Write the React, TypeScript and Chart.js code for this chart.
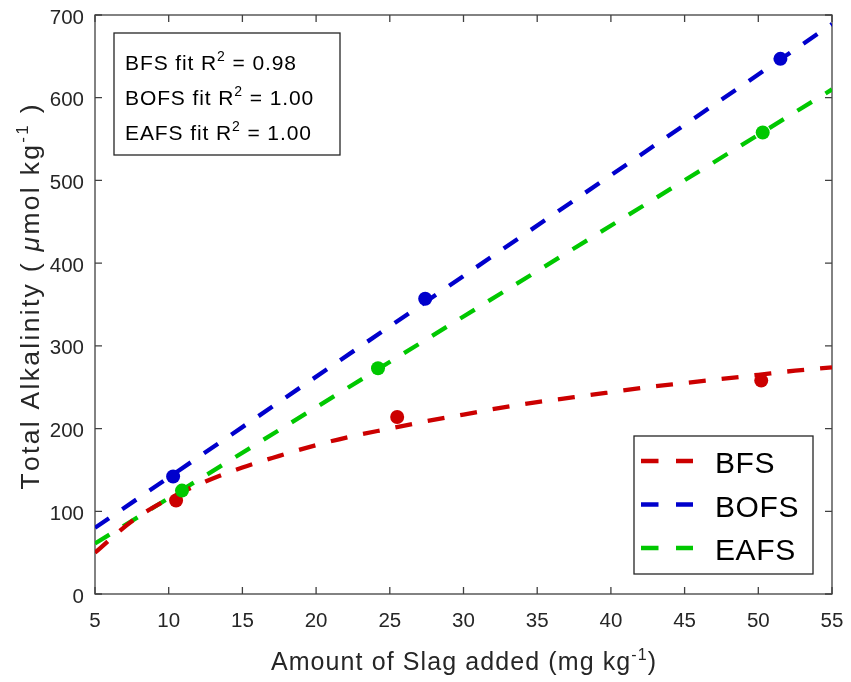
import { useEffect, useRef } from 'react'
import Chart from 'chart.js/auto'

// fitted curves
const bfsFitX = [5, 7.5, 10, 12.5, 15, 17.5, 20, 22.5, 25, 27.5, 30, 32.5, 35, 37.5, 40, 42.5, 45, 47.5, 50, 52.5, 55]
const bfsFitY = [50, 88, 115, 136, 153, 167, 180, 191, 200, 209, 217, 225, 232, 238, 244, 250, 255, 260, 265, 270, 274]
const bofsFitX = [5, 55]
const bofsFitY = [80, 689]
const eafsFitX = [5, 55]
const eafsFitY = [61, 610]

// measured points
const bfsX = [10.5, 25.5, 50.2]
const bfsY = [113, 214, 258]
const bofsX = [10.3, 27.4, 51.5]
const bofsY = [142, 357, 647]
const eafsX = [10.9, 24.2, 50.3]
const eafsY = [125, 273, 558]

const fitLabels = ['BFS fit R', 'BOFS fit R', 'EAFS fit R']
const fitR2 = ['0.98', '1.00', '1.00']

const COLORS = {
  BFS: '#CC0000',
  BOFS: '#0000CC',
  EAFS: '#00C800',
}

const FONT = '"Liberation Sans", Arial, Helvetica, sans-serif'
const TEXT = '#262626'
const AXIS = '#404040'

type Part = { t: string; sup?: boolean; it?: boolean }

const setFont = (ctx: CanvasRenderingContext2D, p: Part, size: number) => {
  ctx.font = `${p.it ? 'italic ' : ''}${size}px ${FONT}`
}

// width of a run of text drawn char by char with extra spacing
function spacedWidth(ctx: CanvasRenderingContext2D, t: string, ls: number) {
  let w = 0
  for (const c of t) w += ctx.measureText(c).width + ls
  return w
}

function drawSpaced(ctx: CanvasRenderingContext2D, t: string, x: number, y: number, ls: number) {
  let cx = x
  for (const c of t) {
    ctx.fillText(c, cx, y)
    cx += ctx.measureText(c).width + ls
  }
  return cx - x
}

function partsWidth(ctx: CanvasRenderingContext2D, parts: Part[], size: number, sup: number, ls: number) {
  let w = 0
  for (const p of parts) {
    setFont(ctx, p, p.sup ? sup : size)
    w += spacedWidth(ctx, p.t, ls)
  }
  return w - ls
}

function drawParts(ctx: CanvasRenderingContext2D, parts: Part[], x: number, y: number, size: number, sup: number, raise: number, ls: number) {
  let cx = x
  for (const p of parts) {
    setFont(ctx, p, p.sup ? sup : size)
    cx += drawSpaced(ctx, p.t, cx, p.sup ? y - raise : y, ls)
  }
}

const zip = (xs: number[], ys: number[]) => xs.map((x, i) => ({ x, y: ys[i] }))

const decorPlugin = {
  id: 'decor',
  beforeDatasetsDraw(chart: any) {
    const { ctx, chartArea: a, scales } = chart
    ctx.save()
    ctx.strokeStyle = AXIS
    ctx.lineWidth = 1.3
    ctx.strokeRect(a.left, a.top, a.right - a.left, a.bottom - a.top)
    const tl = 7
    ctx.beginPath()
    for (const t of scales.x.ticks) {
      const px = scales.x.getPixelForValue(t.value)
      ctx.moveTo(px, a.bottom); ctx.lineTo(px, a.bottom - tl)
      ctx.moveTo(px, a.top); ctx.lineTo(px, a.top + tl)
    }
    for (const t of scales.y.ticks) {
      const py = scales.y.getPixelForValue(t.value)
      ctx.moveTo(a.left, py); ctx.lineTo(a.left + tl, py)
      ctx.moveTo(a.right, py); ctx.lineTo(a.right - tl, py)
    }
    ctx.stroke()

    // tick labels
    ctx.fillStyle = TEXT
    ctx.textBaseline = 'alphabetic'
    ctx.font = `20.5px ${FONT}`
    ctx.textAlign = 'center'
    for (const t of scales.x.ticks) {
      ctx.fillText(String(t.value), scales.x.getPixelForValue(t.value), 627)
    }
    ctx.textAlign = 'right'
    for (const t of scales.y.ticks) {
      ctx.fillText(String(t.value), 84, scales.y.getPixelForValue(t.value) + 8.5)
    }
    ctx.restore()
  },
  afterDraw(chart: any) {
    const { ctx, chartArea: a } = chart
    ctx.save()
    ctx.fillStyle = TEXT
    ctx.textBaseline = 'alphabetic'
    ctx.textAlign = 'left'

    // x axis title
    const xParts: Part[] = [{ t: 'Amount of Slag added (mg kg' }, { t: '-1', sup: true }, { t: ')' }]
    const xw = partsWidth(ctx, xParts, 25, 16, 1.1)
    drawParts(ctx, xParts, (a.left + a.right) / 2 - xw / 2, 670, 25, 16, 10, 1.1)

    // y axis title
    const yParts: Part[] = [
      { t: 'Total Alkalinity ( ' }, { t: 'μ', it: true }, { t: 'mol kg' }, { t: '-1', sup: true }, { t: ' )' },
    ]
    const yw = partsWidth(ctx, yParts, 26.5, 17, 2.3)
    ctx.save()
    ctx.translate(39, 297)
    ctx.rotate(-Math.PI / 2)
    drawParts(ctx, yParts, -yw / 2, 0, 26.5, 17, 11, 2.3)
    ctx.restore()

    // R^2 annotation box
    ctx.fillStyle = '#ffffff'
    ctx.fillRect(114, 33, 226, 122)
    ctx.strokeStyle = TEXT
    ctx.lineWidth = 1.3
    ctx.strokeRect(114, 33, 226, 122)
    ctx.fillStyle = '#000000'
    fitLabels.forEach((lab, i) => {
      drawParts(ctx, [{ t: lab }, { t: '2', sup: true }, { t: ' = ' + fitR2[i] }], 125, 70 + i * 35, 21, 14, 9, 0.9)
    })

    // legend
    ctx.fillStyle = '#ffffff'
    ctx.fillRect(634, 436, 179, 138)
    ctx.strokeRect(634, 436, 179, 138)
    const fits = chart.data.datasets.filter((d: any) => d.isFit)
    fits.forEach((d: any, i: number) => {
      const y = 461 + i * 43.5
      ctx.strokeStyle = d.borderColor
      ctx.lineWidth = 4.5
      ctx.setLineDash([17.5, 17.5])
      ctx.beginPath()
      ctx.moveTo(641, y)
      ctx.lineTo(693, y)
      ctx.stroke()
      ctx.setLineDash([])
      ctx.fillStyle = '#000000'
      ctx.font = `30px ${FONT}`
      drawSpaced(ctx, d.label, 715, y + 12, 0.6)
    })
    ctx.restore()
  },
}

export default function App() {
  const canvasRef = useRef<HTMLCanvasElement>(null)
  const chartRef = useRef<Chart | null>(null)

  useEffect(() => {
    document.body.style.margin = '0'
    if (!canvasRef.current) return
    if (chartRef.current) chartRef.current.destroy()

    const fitStyle = (color: string) => ({
      borderColor: color,
      backgroundColor: color,
      borderWidth: 4.3,
      borderDash: [17, 16],
      pointRadius: 0,
      showLine: true,
      fill: false,
      order: 1,
      isFit: true,
    })
    const dotStyle = (color: string) => ({
      borderColor: color,
      backgroundColor: color,
      pointRadius: 7,
      pointBorderWidth: 0,
      showLine: false,
      order: 0,
    })

    chartRef.current = new Chart(canvasRef.current, {
      type: 'scatter',
      data: {
        datasets: [
          { label: 'EAFS pts', data: zip(eafsX, eafsY), ...dotStyle(COLORS.EAFS) },
          { label: 'BOFS pts', data: zip(bofsX, bofsY), ...dotStyle(COLORS.BOFS) },
          { label: 'BFS pts', data: zip(bfsX, bfsY), ...dotStyle(COLORS.BFS) },
          { label: 'BFS', data: zip(bfsFitX, bfsFitY), ...fitStyle(COLORS.BFS), cubicInterpolationMode: 'monotone' },
          { label: 'BOFS', data: zip(bofsFitX, bofsFitY), ...fitStyle(COLORS.BOFS) },
          { label: 'EAFS', data: zip(eafsFitX, eafsFitY), ...fitStyle(COLORS.EAFS) },
        ] as any,
      },
      options: {
        animation: false,
        responsive: false,
        maintainAspectRatio: false,
        layout: { padding: { left: 0, top: 15, right: 19, bottom: 0 } },
        plugins: {
          legend: { display: false },
          tooltip: { enabled: false },
        },
        scales: {
          x: {
            type: 'linear',
            min: 5,
            max: 55,
            grid: { display: false, drawTicks: false },
            border: { display: false },
            ticks: { stepSize: 5, display: false },
            afterFit: (s: any) => { s.height = 88 },
          },
          y: {
            min: 0,
            max: 700,
            grid: { display: false, drawTicks: false },
            border: { display: false },
            ticks: { stepSize: 100, display: false },
            afterFit: (s: any) => { s.width = 95 },
          },
        },
      },
      plugins: [decorPlugin],
    })

    return () => {
      if (chartRef.current) {
        chartRef.current.destroy()
        chartRef.current = null
      }
    }
  }, [])

  return (
    <div style={{ width: 851, height: 682, background: '#ffffff' }}>
      <canvas ref={canvasRef} width={851} height={682} style={{ width: 851, height: 682 }} />
    </div>
  )
}
